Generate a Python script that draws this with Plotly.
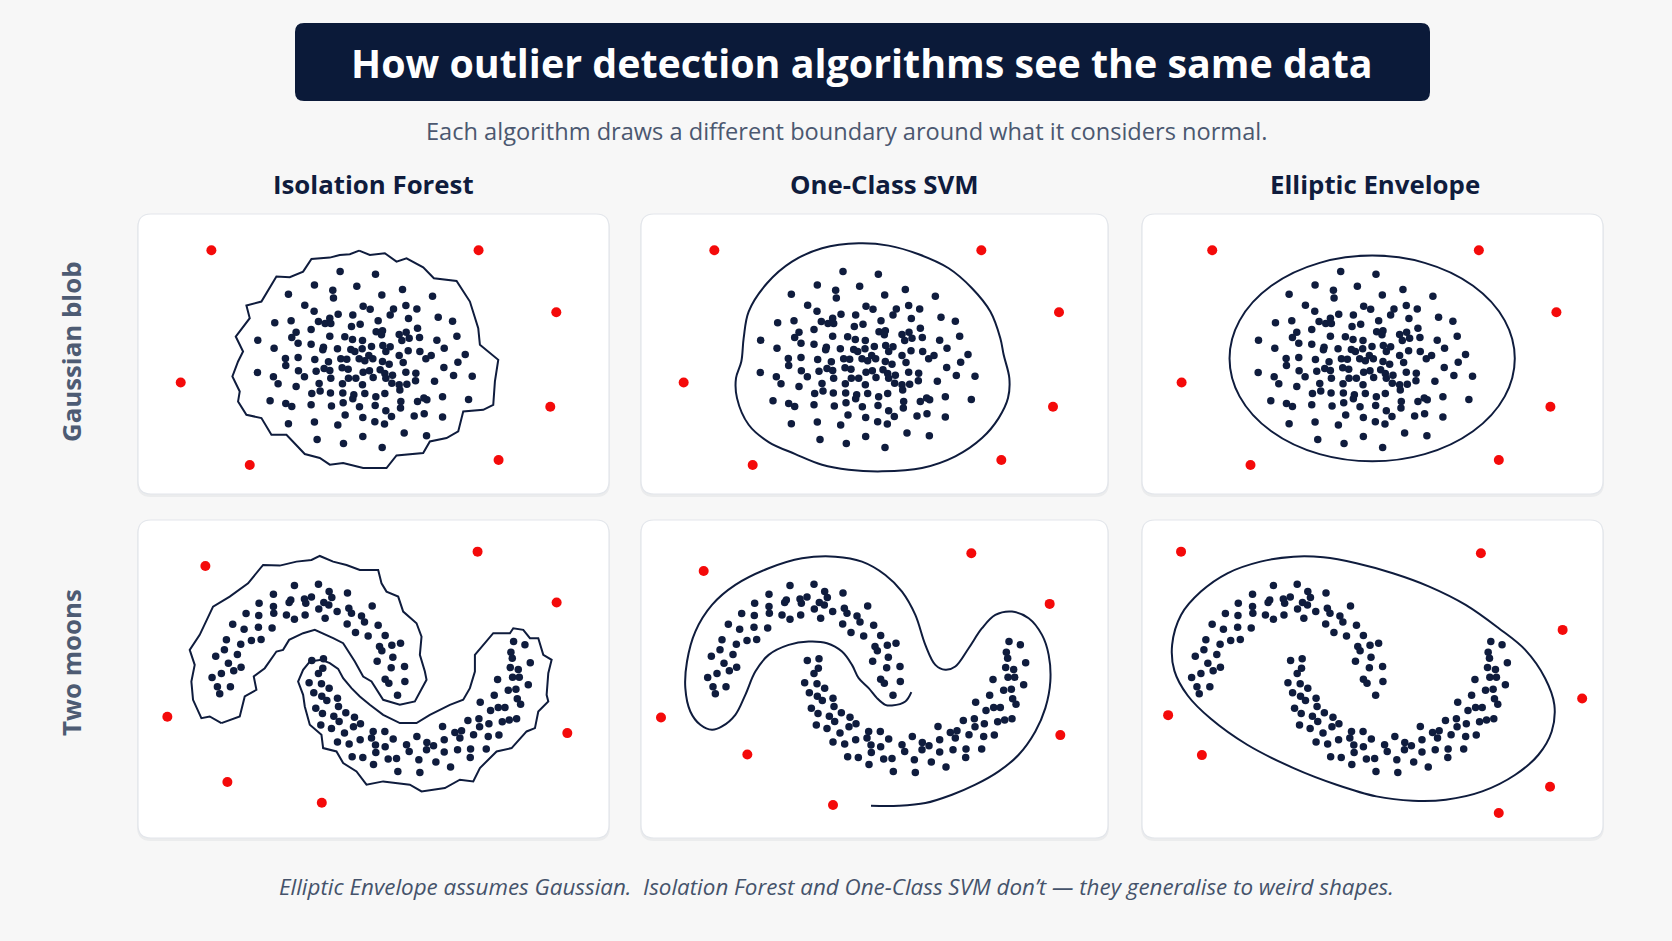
import plotly.graph_objects as go

# ---------------- data ----------------
# Row 1: Gaussian blob (shared by all three columns)
blob_x = [623,729, 546,673,601,810, 468,603,748,900, 517,545,692,713,820,853,783,773,
          617,592,661,828,917,960,427,476,558,578,595,657,683,737,855,
          491,536,478,497,592,637,660,690,731,750,747,800,821,808,830,861,913,973,
          376,425,536,573,571,615,655,667,689,717,751,773,760,827,862,935,998,
          459,460,497,547,588,625,643,680,697,709,721,750,770,800,812,880,896,976,
          375,423,437,498,516,551,575,592,629,647,692,711,743,757,780,820,850,934,963,1019,
          491,560,595,630,648,670,690,722,760,778,800,823,849,906,
          538,563,594,631,664,697,730,757,802,883,930,1008,
          413,460,478,536,597,632,661,681,728,760,805,804,855,874,875,
          546,616,638,691,727,756,777,845,930,468,
          554,633,691,749,815,882]
blob_y = [200,208, 240,244,256,254, 268,279,270,274, 301,319,304,313,302,312,312,330,
          328,340,330,341,337,349,354,348,350,356,356,365,358,348,370,
          382,374,398,415,394,396,404,407,381,378,390,389,382,407,400,398,406,394,
          406,430,418,427,435,432,434,440,432,425,422,426,440,438,440,430,449,
          461,482,458,464,471,462,463,462,468,452,462,470,478,452,473,462,452,472,
          503,516,537,498,516,499,491,497,489,493,502,498,495,506,511,502,505,488,512,514,
          545,536,520,537,520,520,540,518,520,535,540,538,528,529,
          566,559,565,565,570,566,576,566,556,585,576,584,
          588,596,605,600,604,594,582,606,602,618,590,610,590,580,627,
          652,661,631,638,651,658,635,634,637,657,
          704,716,695,728,685,693]
blob_out_x = [237, 1038, 1271, 145, 1253, 352, 1098]
blob_out_y = [136, 136, 322, 533, 606, 781, 766]

# Row 2: two moons (shared by all three columns)
moon_upper_x = [409,481,513,568,346,439,460,521,398,303,346,393,443,497,512,264,302,347,385,409,
                441,482,501,537,572,580,610,642,224,258,301,342,567,619,660,592,630,681,205,248,
                280,309,199,238,173,211,249,227,190,162,178,217,185,664,671,701,727,704,657,699,
                739,681,692,740,718]
moon_upper_y = [212,208,230,234,238,252,246,248,255,265,275,263,265,263,270,296,302,295,300,313,
                300,282,310,290,280,295,303,273,328,343,337,339,327,321,331,353,363,362,375,388,
                377,374,405,419,424,445,457,468,476,488,516,516,537,395,408,391,385,427,439,459,
                455,493,505,500,541]
moon_lower_x = [461,496,494,481,453,490,513,467,491,506,538,473,493,541,527,543,563,589,607,488,
                520,559,586,538,573,606,640,645,680,705,652,681,582,614,646,653,690,715,719,745,
                753,776,782,785,806,805,826,833,853,858,858,877,890,905,898,910,929,937,936,946,
                962,964,966,984,990,992,997,1022,1008,1018,1020,1032,1040,1053,1075,1050,1073,1087,1056,1063,
                1083,1080,1110,1116,1100,1066,1058,1062,1077]
moon_lower_y = [437,432,460,476,504,507,520,534,544,557,550,580,596,575,604,620,594,607,627,631,
                641,655,636,682,688,675,670,650,650,673,691,696,726,728,749,713,733,731,770,690,
                710,665,735,773,683,705,693,742,635,675,712,757,653,670,705,648,617,703,728,660,
                612,636,562,703,665,627,587,661,541,494,578,621,578,616,612,526,523,568,458,487,
                487,464,510,444,390,380,412,430,552]
moon_out_iso_x = [142, 958, 1195, 28, 1227, 208, 491]
moon_out_iso_y = [153, 110, 263, 606, 655, 802, 864]
moon_out_svm_x = [150, 953, 1188, 22, 1220, 281, 538]
moon_out_svm_y = [168, 115, 267, 608, 661, 719, 871]
moon_out_ee_x = [130, 1036, 1283, 1342, 91, 193, 1245, 1090]
moon_out_ee_y = [110, 115, 345, 551, 601, 721, 816, 895]

# Decision boundaries
iso_blob_x = [680,712,757,792,822,872,904,972,1012,1037,1042,1097,1087,1082,1052,992,977,942,892,872,
              792,762,692,632,592,562,517,462,417,387,342,317,322,300,317,332,310,352,342,387,
              432,472,512,537,592,622,652]
iso_blob_y = [137,150,145,170,160,187,220,228,290,370,420,465,530,600,615,620,680,700,710,745,
              752,790,790,775,780,760,748,690,690,640,630,590,560,515,470,440,395,340,302,290,
              215,217,200,162,158,150,148]
svm_blob_x = [670,760,850,940,1010,1065,1095,1105,1122,1118,1090,1040,960,860,740,640,560,480,400,340,
              305,302,318,325,340,395,470,560,670]
svm_blob_y = [115,122,148,190,250,320,400,450,520,580,640,700,755,790,800,795,780,748,712,660,
              580,520,470,400,320,235,170,130,115]
ee_blob_box = [289, 1146, 152, 770]   # x-left, x-right, y-top, y-bottom

iso_moon_up_x = [190,155,130,105,100,110,95,125,165,215,270,315,365,415,460,485,525,565,605,660,
                 670,685,720,735,775,790,785,800,805,770,725,675,640,615,590,555,525,470,435,393,
                 375,355,320,287,295,260,245]
iso_moon_up_y = [625,605,610,555,500,450,405,360,275,245,205,150,152,140,135,123,140,150,165,165,
                 205,230,245,290,325,365,420,470,495,560,570,555,500,485,440,385,370,345,355,375,
                 405,410,460,485,525,545,605]
iso_moon_lo_x = [455,490,515,540,555,580,605,635,675,725,775,815,875,915,935,950,950,975,1005,1055,
                 1065,1095,1115,1140,1155,1180,1170,1165,1170,1140,1130,1105,1060,1015,965,945,905,860,790,755,
                 675,625,595,555,535,495,490,455,440,435,420,435]
iso_moon_lo_y = [440,435,445,462,490,520,545,570,600,625,625,600,570,555,520,470,420,390,355,355,
                 340,345,370,370,420,435,475,540,560,590,640,650,700,710,760,800,795,820,830,810,
                 800,810,770,745,710,700,660,630,575,540,500,465]
svm_moon_x = [773,755,715,695,670,645,615,595,565,520,465,405,345,305,275,245,205,175,140,110,
              95,100,125,175,245,345,445,545,625,695,745,785,815,845,875,905,945,985,1025,1075,
              1125,1165,1185,1190,1175,1145,1095,1035,965,895,815,735,652]
svm_moon_y = [532,560,572,570,550,520,490,450,410,385,380,390,420,470,540,600,635,645,630,590,
              520,440,350,270,210,160,130,125,140,180,230,300,390,450,465,455,400,340,300,290,
              310,360,420,500,580,650,720,770,810,840,865,873,873]
ee_moon_x = [103,130,190,270,370,470,560,660,770,880,990,1090,1170,1230,1258,1250,1210,1140,1040,930,
             830,720,600,470,330,220,150,110,103]
ee_moon_y = [390,300,230,175,140,125,127,145,175,215,270,340,405,490,570,650,720,780,830,855,
             858,845,810,760,690,612,542,468,390]

col_titles = ["Isolation Forest", "One-Class SVM", "Elliptic Envelope"]
row_titles = ["Gaussian blob", "Two moons"]
title_text = "How outlier detection algorithms see the same data"
subtitle_text = "Each algorithm draws a different boundary around what it considers normal."
footer_text = ("Elliptic Envelope assumes Gaussian.  Isolation Forest and One-Class SVM don\u2019t "
               "\u2014 they generalise to weird shapes.")

# ---------------- layout / styling ----------------
W, H = 1672, 941
NAVY = "#0f1c3d"
RED = "#f40a0a"
BG = "#f7f7f7"
FONT = "Open Sans"

col_px = [(138, 609), (641, 1108), (1142, 1603)]
row_px = [(214, 494), (520, 838)]
x_ranges = {(0, 0): [17, 1429], (0, 1): [17, 1418], (0, 2): [26, 1411],
            (1, 0): [-60, 1352], (1, 1): [-38, 1363], (1, 2): [12, 1405]}
y_ranges = {0: [868, 27], 1: [970, 15]}


def px_x(v):
    return v / W


def px_y(v):
    return 1 - v / H


def rounded_rect(l, t, r, b, rad):
    x0, x1 = px_x(l), px_x(r)
    y0, y1 = px_y(b), px_y(t)
    rx, ry = rad / W, rad / H
    return (f"M {x0+rx},{y0} L {x1-rx},{y0} Q {x1},{y0} {x1},{y0+ry} "
            f"L {x1},{y1-ry} Q {x1},{y1} {x1-rx},{y1} L {x0+rx},{y1} "
            f"Q {x0},{y1} {x0},{y1-ry} L {x0},{y0+ry} Q {x0},{y0} {x0+rx},{y0} Z")


fig = go.Figure()
layout_axes = {}
shapes = []

for r in range(2):
    for c in range(3):
        idx = r * 3 + c + 1
        sx = "" if idx == 1 else str(idx)
        l, rr = col_px[c]
        t, b = row_px[r]
        layout_axes[f"xaxis{sx}"] = dict(domain=[px_x(l), px_x(rr)], range=x_ranges[(r, c)],
                                         visible=False, fixedrange=True, anchor=f"y{sx}")
        layout_axes[f"yaxis{sx}"] = dict(domain=[px_y(b), px_y(t)], range=y_ranges[r],
                                         visible=False, fixedrange=True, anchor=f"x{sx}")
        # panel card: soft shadow + white rounded rect
        shapes.append(dict(type="path", xref="paper", yref="paper", layer="below",
                           path=rounded_rect(l - 1, t + 1, rr + 1, b + 3, 14),
                           fillcolor="rgba(20,30,60,0.05)", line=dict(width=0)))
        shapes.append(dict(type="path", xref="paper", yref="paper", layer="below",
                           path=rounded_rect(l, t, rr, b, 13),
                           fillcolor="#ffffff", line=dict(color="#e3e6eb", width=1.2)))


def add_line(xs, ys, idx, shape="linear", close=False):
    sx = "" if idx == 1 else str(idx)
    if close:
        xs = list(xs) + [xs[0]]
        ys = list(ys) + [ys[0]]
    fig.add_trace(go.Scatter(x=xs, y=ys, mode="lines", xaxis=f"x{sx}", yaxis=f"y{sx}",
                             line=dict(color=NAVY, width=2, shape=shape, smoothing=1.0),
                             hoverinfo="skip", showlegend=False))


def add_points(xs, ys, idx, color, size):
    sx = "" if idx == 1 else str(idx)
    fig.add_trace(go.Scatter(x=xs, y=ys, mode="markers", xaxis=f"x{sx}", yaxis=f"y{sx}",
                             marker=dict(color=color, size=size, line=dict(width=0)),
                             hoverinfo="skip", showlegend=False))


# Row 1 boundaries
add_line(iso_blob_x, iso_blob_y, 1, close=True)
add_line(svm_blob_x, svm_blob_y, 2, shape="spline")
shapes.append(dict(type="circle", xref="x3", yref="y3",
                   x0=ee_blob_box[0], x1=ee_blob_box[1], y0=ee_blob_box[2], y1=ee_blob_box[3],
                   line=dict(color=NAVY, width=2), layer="above"))
# Row 2 boundaries
add_line(iso_moon_up_x, iso_moon_up_y, 4, close=True)
add_line(iso_moon_lo_x, iso_moon_lo_y, 4, close=True)
add_line(svm_moon_x, svm_moon_y, 5, shape="spline")
add_line(ee_moon_x, ee_moon_y, 6, shape="spline")

# points
for idx in (1, 2, 3):
    add_points(blob_x, blob_y, idx, NAVY, 7.5)
    add_points(blob_out_x, blob_out_y, idx, RED, 10)
for idx, (ox, oy) in zip((4, 5, 6), ((moon_out_iso_x, moon_out_iso_y),
                                     (moon_out_svm_x, moon_out_svm_y),
                                     (moon_out_ee_x, moon_out_ee_y))):
    add_points(moon_upper_x + moon_lower_x, moon_upper_y + moon_lower_y, idx, NAVY, 7.5)
    add_points(ox, oy, idx, RED, 10)

# title banner
shapes.append(dict(type="path", xref="paper", yref="paper", layer="below",
                   path=rounded_rect(295, 23, 1430, 101, 9),
                   fillcolor="#0b1a39", line=dict(width=0)))


def ann(text, x, y, size, color, **kw):
    d = dict(text=text, x=px_x(x), y=px_y(y), xref="paper", yref="paper",
             xanchor="center", yanchor="middle", showarrow=False,
             font=dict(family=FONT, size=size, color=color))
    d.update(kw)
    return d


annotations = [
    ann(f"<b>{title_text}</b>", 862, 63, 39.4, "#ffffff"),
    ann(subtitle_text, 847, 131, 23.6, "#4b5870"),
    ann(f"<i>{footer_text}</i>", 836, 886, 22.4, "#45536b"),
]
for c, name in enumerate(col_titles):
    annotations.append(ann(f"<b>{name}</b>", [373, 885, 1375][c], 184, 25.8, "#0f1c3d"))
for r, name in enumerate(row_titles):
    annotations.append(ann(f"<b>{name}</b>", 71, [352, 663][r], 25.8, "#4d5b73", textangle=-90))

fig.update_layout(width=W, height=H, autosize=False,
                  margin=dict(l=0, r=0, t=0, b=0),
                  paper_bgcolor=BG, plot_bgcolor="rgba(0,0,0,0)",
                  shapes=shapes, annotations=annotations, showlegend=False,
                  **layout_axes)

fig.write_html("out.html", include_plotlyjs=True, config={"displayModeBar": False},
               post_script="document.body.style.margin='0';")
